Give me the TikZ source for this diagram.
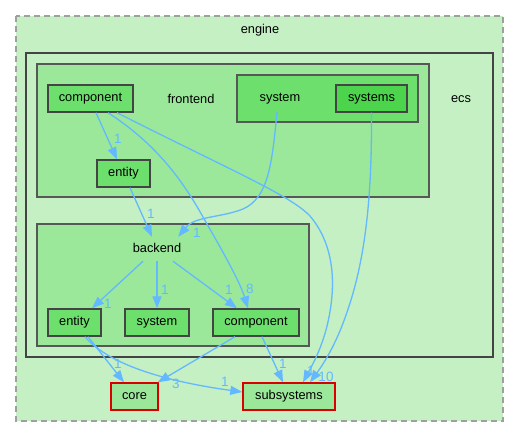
\documentclass[tikz,border=0pt]{standalone}
\usepackage{fontspec}
\setmainfont{Liberation Sans}
\usetikzlibrary{arrows.meta,positioning,calc}
\definecolor{palegreen}{HTML}{C4F0C4}
\definecolor{midgreen}{HTML}{9BE89B}
\definecolor{dirgreen}{HTML}{6DDF6D}
\definecolor{deepgreen}{HTML}{4CD44C}
\definecolor{depblue}{HTML}{63B8FF}
\definecolor{framegray}{HTML}{444444}

\tikzset{
  dirfont/.style={font=\fontsize{12.8}{15}\selectfont},
  dirbox/.style={draw=framegray, line width=1.4pt, fill=dirgreen, minimum height=27pt, inner sep=0pt, dirfont},
  extbox/.style={draw=red!85!black, line width=1.4pt, fill=midgreen, minimum height=27pt, inner sep=0pt, dirfont},
  dirlabel/.style={minimum height=26pt, inner sep=0pt, dirfont},
  dep/.style={draw=depblue, line width=1.3pt, -{Triangle[length=12pt,width=9pt,color=depblue,fill=depblue]}},
  depnum/.style={text=depblue, inner sep=0pt, font=\fontsize{13.5}{15}\selectfont}
}

\begin{document}
\begin{tikzpicture}[x=1pt,y=-1pt]
	\useasboundingbox (0,0) rectangle (520,437);
	% clusters
	\fill[draw=gray!75, line width=1.8pt, dash pattern=on 6pt off 4pt, fill=palegreen] (16,16) rectangle (503,421);\node[dirfont] (engine) at (260,30) {engine};
	\fill[draw=framegray, line width=2.8pt, fill=palegreen] (26,53) rectangle (493,357);\node[dirfont] (ecs) at (461,99) {ecs};
	\fill[draw=framegray!90, line width=1.4pt, fill=midgreen] (37,64) rectangle (429,197);\node[dirfont] (frontend) at (191,99) {frontend};
	\fill[draw=framegray!90, line width=1.4pt, fill=dirgreen] (237,75) rectangle (418,122);\node[dirlabel] (fsystem) at (280,99) {system};
	\fill[draw=framegray!90, line width=1.4pt, fill=midgreen] (37,224) rectangle (309,346);\node[dirlabel, minimum width=50pt] (backend) at (157,248) {backend};

	% directories
	\node[dirbox, fill=deepgreen, minimum width=71pt] (systems) at (371.5,98.5) {systems};
	\node[dirbox, minimum width=85pt] (fcomponent) at (90.5,98.5) {component};
	\node[dirbox, minimum width=53pt] (fentity) at (123.5,173.5) {entity};
	\node[dirbox, minimum width=53pt] (bentity) at (74.5,322.5) {entity};
	\node[dirbox, minimum width=64pt] (bsystem) at (157,322.5) {system};
	\node[dirbox, minimum width=86pt] (bcomponent) at (256,322.5) {component};
	\node[extbox, minimum width=47pt] (core) at (134.5,396.5) {core};
	\node[extbox, minimum width=92pt] (subsystems) at (289,396.5) {subsystems};

	% dependencies
	\draw[dep] ($(fcomponent.south)+(5.5,0)$) -- ($(fentity.north)+(-6.5,0)$);\node[depnum] (n1) at (118,139) {1};
	\draw[dep] ($(fentity.south)+(6.5,0)$) -- ($(backend.north)+(-5,2)$);\node[depnum] (n2) at (151,214) {1};
	\draw[dep] ($(fsystem.south)+(-3,0)$) .. controls (272,165) and (268,198) .. (243,209) .. controls (220,218) and (195,216) .. ($(backend.north east)+(-4,2)$);\node[depnum] (n3) at (197,233) {1};
	\draw[dep] ($(fcomponent.south)+(17.5,0)$) .. controls (150,140) and (178,172) .. (203,217) .. controls (222,250) and (240,282) .. ($(bcomponent.north)+(-8,0)$);\node[depnum] (n4) at (250,289) {8};
	\draw[dep] ($(fcomponent.south)+(26.5,0)$) .. controls (230,170) and (290,195) .. (310,216) .. controls (337,248) and (336,292) .. (326,330) .. controls (319,355) and (309,371) .. ($(subsystems.north)+(14,0)$);
	\draw[dep] (systems.south) .. controls (372,200) and (365,262) .. (346,315) .. controls (334,350) and (319,370) .. ($(subsystems.north)+(21,0)$);\node[depnum] (n5) at (311,371) {1};\node[depnum] (n6) at (326,377) {10};
	\draw[dep] ($(backend.south)+(-14,0)$) -- ($(bentity.north)+(17.5,0)$);\node[depnum] (n7) at (108,304) {1};
	\draw[dep] (backend.south) -- (bsystem.north);\node[depnum] (n8) at (165,290) {1};
	\draw[dep] ($(backend.south)+(16,0)$) -- ($(bcomponent.north)+(-19,0)$);\node[depnum] (n9) at (229,290) {1};
	\draw[dep] ($(bentity.south)+(13.5,0)$) -- ($(core.north)+(-10.5,0)$);\node[depnum] (n10) at (118,364) {1};
	\draw[dep] ($(bentity.south)+(10.5,0)$) .. controls (110,366) and (170,382) .. ($(subsystems.west)+(0,-4.5)$);\node[depnum] (n11) at (225,382) {1};
	\draw[dep] ($(bcomponent.south)+(-21,0)$) -- ($(core.north east)+(-1,0)$);\node[depnum] (n12) at (176,384) {3};
	\draw[dep] ($(bcomponent.south)+(6,0)$) -- ($(subsystems.north)+(-6,0)$);\node[depnum] (n13) at (283,364) {1};
\end{tikzpicture}
\end{document}
